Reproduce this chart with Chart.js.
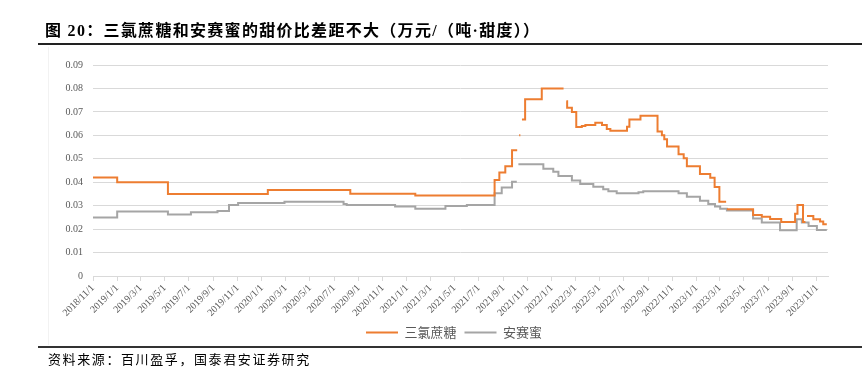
<!DOCTYPE html>
<html><head><meta charset="utf-8">
<script src="https://cdn.jsdelivr.net/npm/chart.js@4.4.1/dist/chart.umd.min.js"></script>
<style>
html,body{margin:0;padding:0;background:#fff;}
#wrap{position:relative;width:867px;height:373px;overflow:hidden;background:#fff;}
#title{position:absolute;left:45px;top:21px;font:bold 16px "Liberation Serif","Noto Sans CJK SC",serif;letter-spacing:1.3px;color:#000;white-space:nowrap;line-height:20px;}
#tline{position:absolute;left:38px;top:43px;width:824px;height:2px;background:#222;}
#bline{position:absolute;left:38px;top:346px;width:824px;height:2px;background:#333;}
#source{position:absolute;left:48px;top:350px;font:13px "Noto Sans CJK SC",sans-serif;letter-spacing:1.6px;color:#000;white-space:nowrap;line-height:17px;}
#frame{position:absolute;left:48px;top:47px;width:1px;height:298px;background:#f2f2f2;}
canvas{position:absolute;left:0;top:0;}
</style></head>
<body>
<div id="wrap">
<div id="frame"></div>
<canvas id="c" width="867" height="373"></canvas>
<div id="title">图 20：三氯蔗糖和安赛蜜的甜价比差距不大（万元/（吨·甜度））</div>
<div id="tline"></div>
<div id="bline"></div>
<div id="source">资料来源：百川盈孚，国泰君安证券研究</div>
</div>
<script>
const seriesNames = ['三氯蔗糖', '安赛蜜'];
const axisStart = '2018/11/1';
const axisEnd = '2023/11/29';
const tickLabels = ['2018/11/1','2019/1/1','2019/3/1','2019/5/1','2019/7/1','2019/9/1','2019/11/1',
  '2020/1/1','2020/3/1','2020/5/1','2020/7/1','2020/9/1','2020/11/1',
  '2021/1/1','2021/3/1','2021/5/1','2021/7/1','2021/9/1','2021/11/1',
  '2022/1/1','2022/3/1','2022/5/1','2022/7/1','2022/9/1','2022/11/1',
  '2023/1/1','2023/3/1','2023/5/1','2023/7/1','2023/9/1','2023/11/1'];

// 三氯蔗糖 (null = break in the series)
const sucraloseDates = ['2018/11/1','2019/1/1','2019/5/9','2020/1/16','2020/8/11','2021/1/22',
  '2021/8/10','2021/8/22','2021/9/6','2021/9/23','2021/10/6','2021/10/7','2021/10/11','2021/10/14','2021/10/15',
  '2021/10/18','2021/10/26','2021/12/7','2022/1/31','2022/2/1','2022/2/7','2022/2/9','2022/2/21',
  '2022/3/4','2022/3/18','2022/3/27','2022/4/21','2022/5/8','2022/5/20','2022/5/29','2022/7/10',
  '2022/7/16','2022/8/13','2022/9/25','2022/10/6','2022/10/12','2022/10/19','2022/11/17','2022/11/30',
  '2022/12/8','2023/1/10','2023/2/5','2023/2/16','2023/2/28','2023/3/17','2023/3/18','2023/3/19',
  '2023/5/24','2023/6/15','2023/7/6','2023/8/3','2023/9/7','2023/9/13','2023/9/27','2023/10/3',
  '2023/10/4','2023/10/7','2023/10/23','2023/11/9','2023/11/17','2023/11/26'];
const sucraloseValues = [0.042,0.040,0.035,0.0367,0.0351,0.0343,
  0.041,0.0442,0.0468,0.0536,0.0536,null,0.060,0.060,null,
  0.0668,0.0754,0.080,0.080,null,0.0745,0.0718,0.070,
  0.0636,0.064,0.0644,0.0654,0.0644,0.0627,0.062,0.0637,
  0.0668,0.0684,0.0616,0.060,0.0583,0.0552,0.0519,0.0502,
  0.0468,0.0435,0.0419,0.038,0.0317,0.0317,null,0.0285,
  0.026,0.0253,0.0243,0.023,0.0265,0.0303,0.023,0.023,
  null,0.0256,0.0242,0.0232,0.0221,0.0221];

// 安赛蜜
const acesulfameDates = ['2018/11/1','2019/1/1','2019/5/9','2019/7/6','2019/9/11','2019/10/10','2019/11/2',
  '2020/2/27','2020/7/25','2020/8/2','2020/12/2','2021/1/22','2021/4/8','2021/6/1',
  '2021/8/10','2021/8/28','2021/9/23','2021/10/5','2021/10/6','2021/10/9','2021/12/11',
  '2022/1/5','2022/1/18','2022/2/21','2022/3/14','2022/4/16','2022/5/11','2022/5/24','2022/6/14',
  '2022/8/8','2022/8/20','2022/11/17','2022/12/8','2023/1/10','2023/1/31','2023/2/17','2023/3/2',
  '2023/3/19','2023/5/24','2023/6/15','2023/7/31','2023/9/11','2023/9/24','2023/10/11','2023/11/1','2023/11/26'];
const acesulfameValues = [0.025,0.0275,0.0262,0.0272,0.0277,0.0303,0.0311,
  0.0317,0.0307,0.0303,0.0296,0.0287,0.0299,0.0303,
  0.0353,0.0378,0.0402,0.0402,null,0.0477,0.0457,
  0.0445,0.0427,0.0407,0.0392,0.0381,0.037,0.0361,0.0353,
  0.0357,0.0361,0.0353,0.0338,0.0321,0.0307,0.0296,0.0287,
  0.0279,0.0245,0.0228,0.0195,0.0242,0.0228,0.0213,0.0196,0.0196];

function dayIndex(s) {
  const p = s.split('/').map(Number);
  const b = axisStart.split('/').map(Number);
  return Math.round((Date.UTC(p[0], p[1]-1, p[2]) - Date.UTC(b[0], b[1]-1, b[2])) / 86400000);
}
function toPoints(dates, values) {
  return dates.map((d, i) => ({x: dayIndex(d), y: values[i]}));
}
const tickDays = tickLabels.map(dayIndex);

Chart.defaults.font.family = '"Liberation Serif", "Times New Roman", serif';
Chart.defaults.color = '#595959';

const shiftLegend = {
  id: 'shiftLegend',
  afterLayout(chart) {
    const lg = chart.legend;
    if (lg) { lg.left += 40; lg.right += 40; }
  }
};

new Chart(document.getElementById('c'), {
  type: 'line',
  plugins: [shiftLegend],
  data: {
    datasets: [
      {label: seriesNames[0], data: toPoints(sucraloseDates, sucraloseValues),
       borderColor: '#ED7D31', backgroundColor: '#ED7D31', borderWidth: 2, pointRadius: 0,
       stepped: true, spanGaps: false, tension: 0},
      {label: seriesNames[1], data: toPoints(acesulfameDates, acesulfameValues),
       borderColor: '#A5A5A5', backgroundColor: '#A5A5A5', borderWidth: 2, pointRadius: 0,
       stepped: true, spanGaps: false, tension: 0}
    ]
  },
  options: {
    responsive: false,
    animation: false,
    devicePixelRatio: 1,
    layout: {padding: {left: 0, right: 39, top: 65, bottom: 24}},
    plugins: {
      tooltip: {enabled: false},
      legend: {
        position: 'bottom',
        labels: {
          boxWidth: 32, boxHeight: 2, padding: 8,
          font: {family: '"Noto Sans CJK SC", sans-serif', size: 13},
          color: '#595959',
          generateLabels(chart) {
            const items = Chart.defaults.plugins.legend.labels.generateLabels(chart);
            items.forEach(it => { it.lineWidth = 0; });
            return items;
          }
        }
      }
    },
    scales: {
      x: {
        type: 'linear',
        min: 0,
        max: dayIndex(axisEnd),
        afterBuildTicks(scale) { scale.ticks = tickDays.map(v => ({value: v})); },
        afterFit(scale) { scale.height = 42; },
        grid: {display: true, drawOnChartArea: false, drawTicks: true, tickLength: 5, color: '#d9d9d9'},
        border: {display: true, color: '#d9d9d9', width: 1},
        ticks: {
          autoSkip: false, minRotation: 45, maxRotation: 45, padding: 1,
          font: {size: 10}, color: '#595959',
          callback(value, index) { return tickLabels[index]; }
        }
      },
      y: {
        min: 0, max: 0.09,
        afterFit(scale) { scale.width = 93; },
        grid: {color: '#d9d9d9', lineWidth: 1, drawTicks: false},
        border: {display: false},
        ticks: {
          stepSize: 0.01, padding: 10, font: {size: 10}, color: '#595959',
          callback(v) { const r = Math.round(v * 100) / 100; return r === 0 ? '0' : r.toFixed(2); }
        }
      }
    }
  }
});
</script>
</body></html>
